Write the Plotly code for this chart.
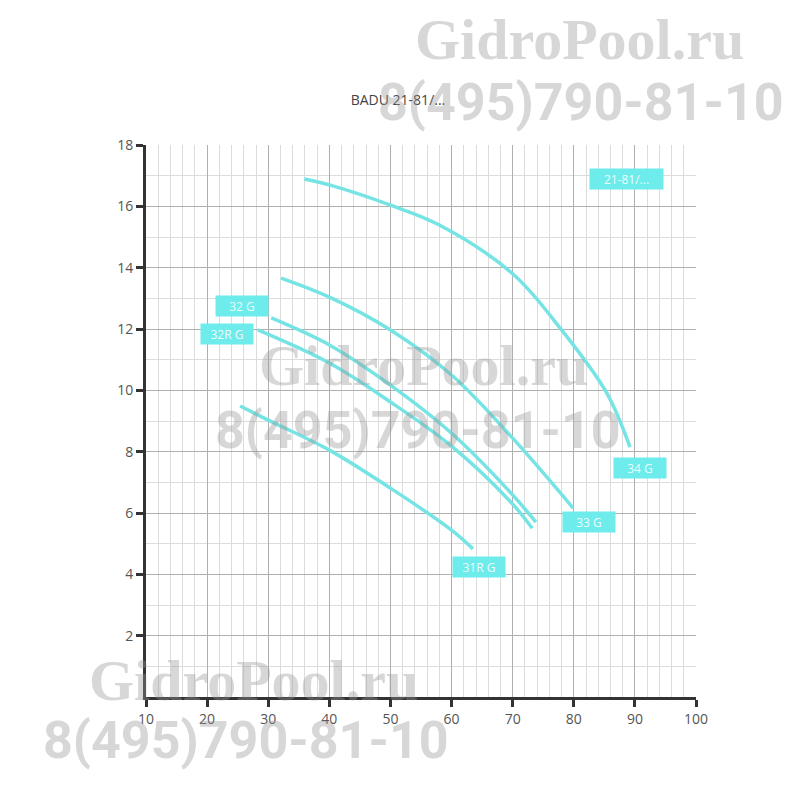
import plotly.graph_objects as go

# ---- data ----
curve_names = ["34 G", "33 G", "32 G", "32R G", "31R G"]
x_34G = [35.9, 40, 50, 58, 70, 78, 85.4, 89.2]
y_34G = [16.89, 16.7, 16.04, 15.39, 13.8, 11.97, 9.91, 8.15]
x_33G = [32.1, 40, 50, 60, 70, 79.9]
y_33G = [13.66, 13.04, 11.97, 10.5, 8.44, 6.16]
x_32G = [30.5, 40, 50, 60, 70, 73.8]
y_32G = [12.36, 11.48, 10.17, 8.6, 6.59, 5.7]
x_32RG = [28.3, 40, 50, 60, 70, 73.2]
y_32RG = [11.97, 10.89, 9.62, 8.18, 6.29, 5.5]
x_31RG = [25.4, 30, 40, 50, 60, 63.5]
y_31RG = [9.49, 9.03, 8.05, 6.81, 5.44, 4.83]

label_texts = ["21-81/...", "34 G", "33 G", "32 G", "32R G", "31R G"]
label_x = [88.7, 90.8, 82.5, 25.7, 23.3, 64.5]
label_y = [16.9, 7.47, 5.7, 12.75, 11.84, 4.24]
label_w = [67, 46, 46, 46, 46, 46]

title_text = "BADU 21-81/..."
x_ticks = [10, 20, 30, 40, 50, 60, 70, 80, 90, 100]
y_ticks = [2, 4, 6, 8, 10, 12, 14, 16, 18]

watermark_site = "GidroPool.ru"
watermark_phone = "8(495)790-81-10"

LINE = "rgb(118,228,228)"
BOX = "rgb(110,236,236)"

# page body has an 8px margin, so shift everything by it
OFF = 8

fig = go.Figure()
for xs, ys, nm in zip([x_34G, x_33G, x_32G, x_32RG, x_31RG],
                      [y_34G, y_33G, y_32G, y_32RG, y_31RG], curve_names):
    fig.add_trace(go.Scatter(x=xs, y=ys, mode="lines", name=nm,
                             line=dict(color=LINE, width=3.5, shape="spline", smoothing=1.0),
                             showlegend=False, hoverinfo="skip"))

for t, lx, ly, w in zip(label_texts, label_x, label_y, label_w):
    fig.add_annotation(x=lx, y=ly, xref="x", yref="y", text=t, showarrow=False,
                       bgcolor=BOX, font=dict(color="rgba(255,255,255,0.9)", size=12, family="Open Sans"),
                       borderpad=3, width=w, height=14, align="center",
                       xanchor="center", yanchor="middle")

# watermarks (target pixel positions converted to paper coordinates)
L, R, T, B = 146, 696, 145, 697
def px(xp):
    return (xp - L) / (R - L)
def py(yp):
    return (B - yp) / (B - T)

wm_col = "rgba(150,150,150,0.38)"
for cx, cy, txt, fam, sz in [
    (579, 40, watermark_site, "Liberation Serif", 58),
    (581, 102, watermark_phone, "Roboto", 52),
    (423, 365, watermark_site, "Liberation Serif", 58),
    (418, 430, watermark_phone, "Roboto", 52),
    (253, 680, watermark_site, "Liberation Serif", 58),
    (246, 740, watermark_phone, "Roboto", 52),
]:
    fig.add_annotation(x=px(cx), y=py(cy), xref="paper", yref="paper", text="<b>" + txt + "</b>",
                       showarrow=False, xanchor="center", yanchor="middle",
                       font=dict(family=fam, size=sz, color=wm_col))

axis_common = dict(showline=True, linecolor="#333333", linewidth=3, ticks="outside",
                   ticklen=7, tickwidth=3, tickcolor="#333333",
                   tickfont=dict(family="Open Sans", size=14, color="#555555"),
                   showgrid=True, gridcolor="#b0b0b0", gridwidth=1, zeroline=False,
                   mirror=False)

fig.update_xaxes(range=[10, 100], tickvals=x_ticks,
                 minor=dict(dtick=2, showgrid=True, gridcolor="#dcdcdc", gridwidth=1, ticks=""),
                 **axis_common)
fig.update_yaxes(range=[0, 18], tickvals=y_ticks,
                 minor=dict(dtick=1, showgrid=True, gridcolor="#dcdcdc", gridwidth=1, ticks=""),
                 **axis_common)

fig.update_layout(
    width=800, height=800,
    margin=dict(l=L - OFF, r=800 - R + OFF, t=T - OFF, b=800 - B + OFF),
    paper_bgcolor="white", plot_bgcolor="white",
    title=dict(text=title_text, x=(398 - L) / (R - L), xanchor="center",
               y=1 - (100 - OFF) / 800, yanchor="middle",
               yref="container", xref="paper",
               font=dict(family="Open Sans", size=14, color="#444444")),
)

fig.write_html("out.html")
